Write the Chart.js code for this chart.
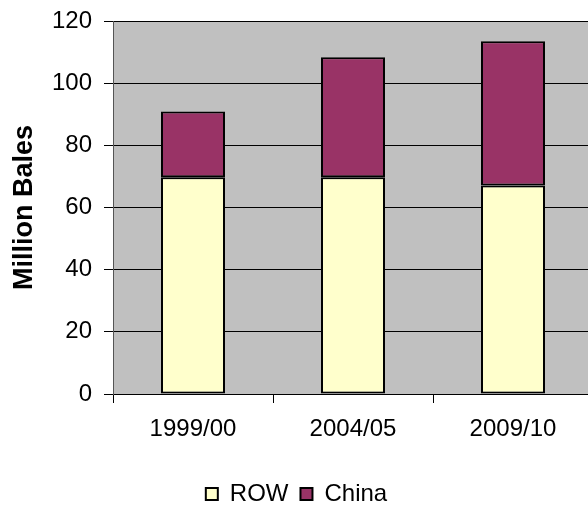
<!DOCTYPE html>
<html>
<head>
<meta charset="utf-8">
<script src="https://cdn.jsdelivr.net/npm/chart.js@4/dist/chart.umd.min.js"></script>
<style>
  html, body { margin: 0; padding: 0; background: #fff; overflow: hidden; }
  #wrap { width: 600px; height: 530px; }
</style>
</head>
<body>
<div id="wrap"><canvas id="c" width="600" height="530"></canvas></div>
<script>
// Cotton consumption, million bales
const seasons = ['1999/00', '2004/05', '2009/10'];
const rowValues = [69.7, 69.7, 67.1];
const chinaValues = [21.2, 38.6, 46.4];
const yTicks = [0, 20, 40, 60, 80, 100, 120];

const FONT = "'Liberation Sans', Arial, sans-serif";

// Grey plot background with a light top edge
const plotBackground = {
  id: 'plotBackground',
  beforeDraw(chart) {
    const { ctx, chartArea: a } = chart;
    ctx.save();
    ctx.fillStyle = '#C0C0C0';
    ctx.fillRect(a.left, a.top, a.right - a.left, a.bottom - a.top);
    ctx.strokeStyle = '#8c8c8c';
    ctx.lineWidth = 1;
    ctx.beginPath();
    ctx.moveTo(a.left, a.top + 0.5);
    ctx.lineTo(a.right, a.top + 0.5);
    ctx.stroke();
    ctx.restore();
  }
};

new Chart(document.getElementById('c'), {
  type: 'bar',
  data: {
    labels: seasons,
    datasets: [
      {
        label: 'ROW',
        data: rowValues,
        backgroundColor: '#FFFFCC',
        borderColor: '#000000',
        borderWidth: 2,
        borderSkipped: false,
        barPercentage: 0.4,
        categoryPercentage: 1.0
      },
      {
        label: 'China',
        data: chinaValues,
        backgroundColor: '#993366',
        borderColor: '#000000',
        borderWidth: 2,
        borderSkipped: false,
        barPercentage: 0.4,
        categoryPercentage: 1.0
      }
    ]
  },
  options: {
    responsive: false,
    animation: false,
    layout: { padding: { top: 21, right: 7, bottom: 14, left: 0 } },
    plugins: {
      legend: {
        position: 'bottom',
        labels: {
          font: { family: FONT, size: 24 },
          color: '#000',
          boxWidth: 12,
          boxHeight: 12,
          padding: 12,
          useBorderRadius: false
        }
      },
      tooltip: { enabled: false }
    },
    scales: {
      x: {
        stacked: true,
        offset: true,
        grid: {
          display: true,
          drawOnChartArea: false,
          offset: true,
          tickLength: 9,
          color: '#000'
        },
        border: { color: '#000', width: 1 },
        ticks: {
          font: { family: FONT, size: 24 },
          color: '#000',
          padding: 12
        },
        afterFit(scale) { scale.height = 76; }
      },
      y: {
        stacked: true,
        min: 0,
        max: 120,
        afterBuildTicks(scale) { scale.ticks = yTicks.map(v => ({ value: v })); },
        grid: {
          color: '#000',
          lineWidth: 1,
          tickLength: 9
        },
        border: { color: '#555', width: 1 },
        ticks: {
          font: { family: FONT, size: 24 },
          color: '#000',
          padding: 12
        },
        title: {
          display: true,
          text: 'Million Bales',
          font: { family: FONT, size: 27, weight: 'bold' },
          color: '#000',
          padding: { top: 8, bottom: 0 }
        },
        afterFit(scale) {
          scale.width = 113;
          scale.paddingTop = 0;
          scale.paddingBottom = 0;
        }
      }
    }
  },
  plugins: [plotBackground]
});
</script>
</body>
</html>
